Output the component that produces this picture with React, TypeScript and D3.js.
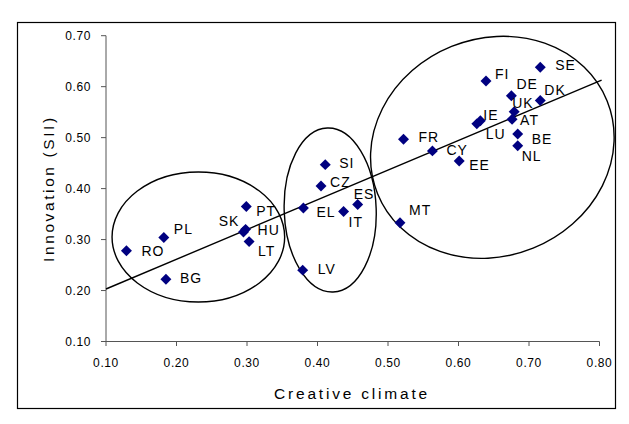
import React from "react";
import * as d3 from "d3";

const countries = ["RO","PL","BG","PT","SK","HU","LT","EL","SI","CZ","IT","ES","LV","MT","FR","CY","EE","LU","IE","FI","DE","UK","AT","BE","NL","SE","DK"];
const creativeClimate = [0.129,0.182,0.185,0.299,0.295,0.298,0.303,0.380,0.411,0.405,0.437,0.457,0.379,0.517,0.522,0.563,0.601,0.626,0.631,0.639,0.675,0.679,0.676,0.684,0.684,0.716,0.716];
const innovation = [0.278,0.304,0.222,0.365,0.315,0.320,0.296,0.362,0.447,0.405,0.355,0.369,0.240,0.333,0.497,0.474,0.454,0.527,0.533,0.611,0.582,0.551,0.536,0.507,0.484,0.638,0.573];

const xTicks = [0.1,0.2,0.3,0.4,0.5,0.6,0.7,0.8];
const yTicks = [0.1,0.2,0.3,0.4,0.5,0.6,0.7];
const trendX = [0.1, 0.803];
const trendY = [0.203, 0.613];

// cluster ellipses: center in data units; radii (px) and rotation as styling
const clusterCx = [0.231, 0.418, 0.648];
const clusterCy = [0.305, 0.358, 0.481];

const ellipseStyle = [
  { rx: 86.3, ry: 65, rot: 0 },
  { rx: 46, ry: 82, rot: -2 },
  { rx: 123.8, ry: 108.8, rot: -22 },
];

// label offsets (px) relative to marker: [dx, dy, anchor]
const labelPos: Record<string, [number, number, string]> = {
  RO: [15, 0, "start"], PL: [10, -9, "start"], BG: [14, -1, "start"],
  PT: [10, 5, "start"], SK: [-4, -11, "end"], HU: [12, 1, "start"],
  LT: [9, 9, "start"], EL: [13, 4, "start"], SI: [14, -2, "start"],
  CZ: [9, -4, "start"], IT: [5, 10, "start"], ES: [-4, -10, "start"],
  LV: [15, -1, "start"], MT: [9, -13, "start"], FR: [15, -2, "start"],
  CY: [14, -1, "start"], EE: [10, 4, "start"], LU: [9, 10, "start"],
  IE: [3, -6, "start"], FI: [9, -7, "start"], DE: [5, -12, "start"],
  UK: [-2, -9, "start"], AT: [8, 1, "start"], BE: [14, 5, "start"],
  NL: [4, 10, "start"], SE: [15, -2, "start"], DK: [4, -10, "start"],
};

const FONT = "'Liberation Sans', Arial, sans-serif";

export default function App() {
  const x = d3.scaleLinear().domain([0.1, 0.8]).range([106, 599.5]);
  const y = d3.scaleLinear().domain([0.1, 0.7]).range([341.5, 35.7]);
  const diamond = d3.symbol(d3.symbolSquare, 60)();
  const line = d3.line<number>().x((_, i) => x(trendX[i])).y((_, i) => y(trendY[i]));
  const axisColor = "#555";

  return (
    <svg width={629} height={424} style={{ position: "absolute", left: 0, top: 0, background: "#fff" }}>
      <rect x={0} y={0} width={629} height={424} fill="#fff" />
      <rect x={17.5} y={22.5} width={598} height={386} fill="none" stroke="#000" strokeWidth={1.2} />
      {/* axes */}
      <line x1={106} x2={106} y1={y(0.7)} y2={y(0.1)} stroke={axisColor} strokeWidth={1} />
      <line x1={106} x2={x(0.8)} y1={y(0.1)} y2={y(0.1)} stroke={axisColor} strokeWidth={1} />
      {yTicks.map((t) => (
        <g key={"y" + t}>
          <line x1={101} x2={106} y1={y(t)} y2={y(t)} stroke={axisColor} />
          <text x={91} y={y(t) + 4.3} textAnchor="end" fontFamily={FONT} fontSize={12} letterSpacing={0.6} fill="#000">
            {t.toFixed(2)}
          </text>
        </g>
      ))}
      {xTicks.map((t) => (
        <g key={"x" + t}>
          <line x1={x(t)} x2={x(t)} y1={y(0.1)} y2={y(0.1) + 4.5} stroke={axisColor} />
          <text x={x(t)} y={367} textAnchor="middle" fontFamily={FONT} fontSize={12} letterSpacing={0.6} fill="#000">
            {t.toFixed(2)}
          </text>
        </g>
      ))}
      <text x={352} y={398.5} textAnchor="middle" fontFamily={FONT} fontSize={15.5} letterSpacing={2.8} fill="#000">
        Creative climate
      </text>
      <text transform={`translate(53.5, ${(y(0.7) + y(0.1)) / 2}) rotate(-90)`} textAnchor="middle" fontFamily={FONT} fontSize={15.5} letterSpacing={2.6} fill="#000">
        Innovation (SII)
      </text>
      {/* ellipses */}
      {clusterCx.map((cx, i) => (
        <ellipse key={"e" + i} cx={0} cy={0} rx={ellipseStyle[i].rx} ry={ellipseStyle[i].ry}
          transform={`translate(${x(cx)},${y(clusterCy[i])}) rotate(${ellipseStyle[i].rot})`}
          fill="none" stroke="#000" strokeWidth={1.4} />
      ))}
      {/* trend line */}
      <path d={line(trendX) || ""} fill="none" stroke="#000" strokeWidth={1.4} />
      {/* points */}
      {countries.map((c, i) => (
        <path key={c} d={diamond || ""} transform={`translate(${x(creativeClimate[i])},${y(innovation[i])}) rotate(45)`} fill="#000080" />
      ))}
      {countries.map((c, i) => {
        const [dx, dy, anchor] = labelPos[c];
        return (
          <text key={"l" + c} x={x(creativeClimate[i]) + dx} y={y(innovation[i]) + dy + 5} textAnchor={anchor as any}
            fontFamily={FONT} fontSize={14} letterSpacing={1} fill="#000">
            {c}
          </text>
        );
      })}
    </svg>
  );
}
